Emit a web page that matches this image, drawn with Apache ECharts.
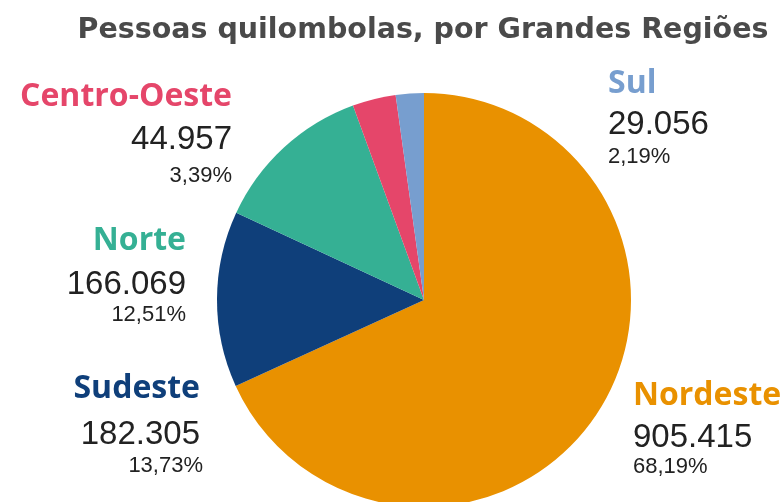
<!DOCTYPE html>
<html>
<head>
<meta charset="utf-8">
<script src="https://cdn.jsdelivr.net/npm/echarts@6/dist/echarts.min.js"></script>
<style>
  html, body { margin: 0; padding: 0; background: #fff; }
  #chart { width: 784px; height: 502px; }
</style>
</head>
<body>
<div id="chart"></div>
<script>
// dados
var regioes = ['Nordeste', 'Sudeste', 'Norte', 'Centro-Oeste', 'Sul'];
var pessoas = [905415, 182305, 166069, 44957, 29056];
var valoresTxt = ['905.415', '182.305', '166.069', '44.957', '29.056'];
var percentuais = ['68,19%', '13,73%', '12,51%', '3,39%', '2,19%'];
var cores = ['#E99100', '#0F3F7A', '#35B094', '#E5466A', '#779ECF'];

// posicao dos rotulos: x, alinhamento, topo do nome / numero / percentual
var rotX = [633, 200, 186, 232, 608];
var rotAlign = ['left', 'right', 'right', 'right', 'left'];
var rotY = [[380, 421, 456], [373, 418, 455], [225, 268, 304], [81, 123, 165], [68, 108, 146]];

var chart = echarts.init(document.getElementById('chart'));

var graficos = [];
for (var i = 0; i < regioes.length; i++) {
  var x = rotX[i], al = rotAlign[i];
  graficos.push({
    type: 'text', x: x, y: rotY[i][0],
    style: { text: regioes[i], fill: cores[i], align: al, verticalAlign: 'top',
      font: 'bold 32px "Open Sans"' }
  });
  graficos.push({
    type: 'text', x: x, y: rotY[i][1],
    style: { text: valoresTxt[i], fill: '#222', align: al, verticalAlign: 'top',
      font: '33px "Liberation Sans"' }
  });
  graficos.push({
    type: 'text', x: x + (i === 1 ? 3 : 0), y: rotY[i][2],
    style: { text: percentuais[i], fill: '#222', align: al, verticalAlign: 'top',
      font: '22px "Liberation Sans"' }
  });
}

chart.setOption({
  animation: false,
  title: {
    text: 'Pessoas quilombolas, por Grandes Regiões',
    left: 418, top: 11, textAlign: 'center',
    textStyle: { fontFamily: 'DejaVu Sans', fontWeight: 'bold', fontSize: 28.5, color: '#4a4a4a' }
  },
  graphic: graficos,
  series: [{
    type: 'pie',
    center: [424, 300],
    radius: [0, 207],
    startAngle: 90,
    clockwise: true,
    label: { show: false },
    labelLine: { show: false },
    emphasis: { disabled: true },
    itemStyle: { borderWidth: 0 },
    data: regioes.map(function (r, i) {
      return { name: r, value: pessoas[i], itemStyle: { color: cores[i] } };
    })
  }]
});
</script>
</body>
</html>
